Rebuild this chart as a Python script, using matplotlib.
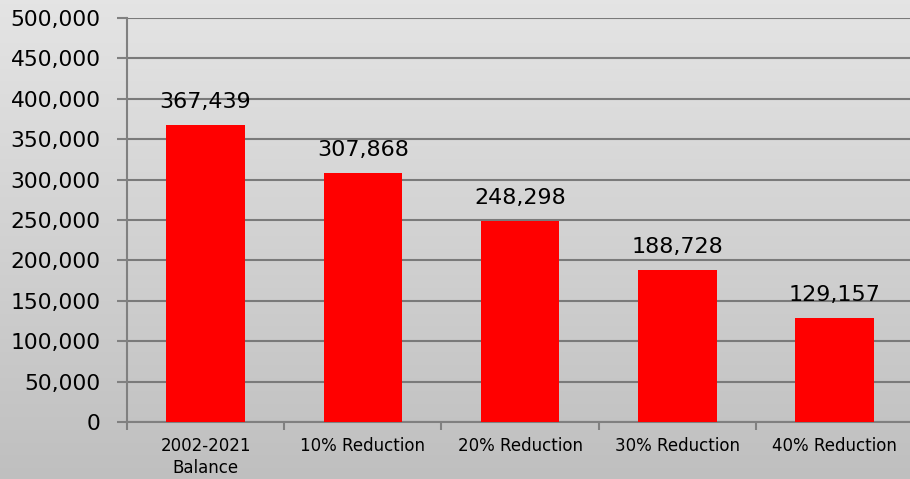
import numpy as np
import matplotlib.pyplot as plt
from matplotlib.ticker import FuncFormatter, FixedLocator

categories = ["2002-2021\nBalance", "10% Reduction", "20% Reduction", "30% Reduction", "40% Reduction"]
values = [367439, 307868, 248298, 188728, 129157]
y_ticks = list(range(0, 500001, 50000))

plt.rcParams['font.family'] = ['DejaVu Sans']

fig = plt.figure(figsize=(9.1, 4.79), dpi=100)

# gradient background
bg = fig.add_axes([0, 0, 1, 1], zorder=0)
grad = np.linspace(0.895, 0.75, 256).reshape(-1, 1)
bg.imshow(np.dstack([grad, grad, grad]), aspect='auto', extent=[0, 1, 0, 1])
bg.axis('off')

ax = fig.add_axes([127 / 910, 1 - 422 / 479, (913 - 127) / 910, 404 / 479], zorder=1)
ax.patch.set_alpha(0)

x = np.arange(len(categories))
ax.bar(x, values, width=0.5, color='#ff0000', zorder=3)
for xi, v in zip(x, values):
    ax.text(xi, v + 16000, f"{v:,}", ha='center', va='bottom', fontsize=16, color='black', zorder=4)

ax.set_xlim(-0.5, len(categories) - 0.5)
ax.set_ylim(0, 500000)
ax.set_yticks(y_ticks)
ax.yaxis.set_major_formatter(FuncFormatter(lambda v, p: f"{int(v):,}"))
ax.tick_params(axis='y', labelsize=15.7, length=7, width=1.5, color='#808080', pad=12)
ax.grid(axis='y', color='#7a7a7a', linewidth=1.5, zorder=1)

ax.set_xticks(x)
ax.set_xticklabels(categories, linespacing=1.3)
ax.tick_params(axis='x', which='major', length=0, labelsize=12, pad=11)
ax.xaxis.set_minor_locator(FixedLocator(np.arange(-0.5, len(categories), 1)))
ax.tick_params(axis='x', which='minor', length=6, width=1.5, color='#808080')

for s in ['top', 'right']:
    ax.spines[s].set_visible(False)
for s in ['left', 'bottom']:
    ax.spines[s].set_color('#808080')
    ax.spines[s].set_linewidth(1.5)

fig.savefig('out.png', dpi=100)
